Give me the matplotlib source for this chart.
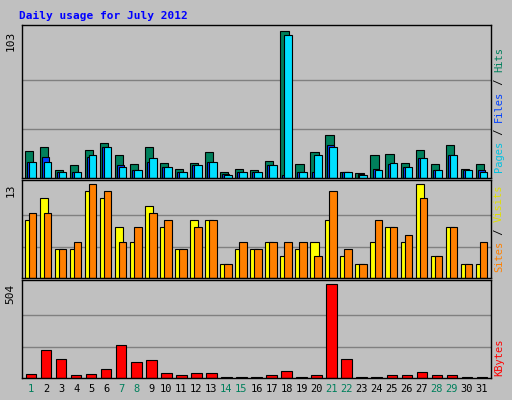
import matplotlib.pyplot as plt
import numpy as np

days = list(range(1, 32))
weekend = [1, 7, 8, 14, 15, 21, 22, 28, 29]

hits = [18.7, 21.5, 5.8, 8.9, 19.8, 24.8, 16.3, 9.6, 21.5, 10.7, 6.5, 10.7, 18, 4.4, 6.5, 5.8,
        11.7, 103, 9.6, 18, 30, 4.4, 3.7, 15.9, 16.6, 10.7, 19.8, 9.6, 23, 6.5, 9.6]
files = [11.4, 14.5, 4.4, 4, 14.5, 21.5, 8.9, 5.8, 11, 7.5, 4.4, 8.9, 11.4, 3, 4.4, 4.4,
         8.9, 2.3, 4.4, 4, 23, 4.4, 3, 6.5, 9.6, 7.5, 13.8, 5.8, 15.9, 5.8, 5.8]
pages = [11.4, 11.4, 4.4, 4.4, 15.9, 21.5, 7.5, 5.8, 13.8, 7.5, 4.4, 8.9, 11.4, 2.3, 4.4, 4.4,
         8.9, 100, 4.4, 15.9, 21.5, 4, 2.3, 5.8, 10.7, 7.5, 13.8, 5.8, 15.9, 5.8, 4]
visits = [8, 11, 4, 4, 12, 11, 7, 5, 10, 7, 4, 8, 8, 2, 4, 4,
          5, 3, 4, 5, 8, 3, 2, 5, 7, 5, 13, 3, 7, 2, 2]
sites = [9, 9, 4, 5, 13, 12, 5, 7, 9, 8, 4, 7, 8, 2, 5, 4,
         5, 5, 5, 3, 12, 4, 2, 8, 7, 6, 11, 3, 7, 2, 5]
kbytes = [20, 148, 101, 14, 20, 47, 175, 85, 94, 25, 14, 25, 25, 5, 5, 5,
          14, 36, 5, 14, 504, 101, 5, 5, 14, 14, 31, 14, 14, 5, 5]

bg = '#C0C0C0'
x = np.array(days)

fig = plt.figure(figsize=(5.12, 4.0), dpi=100, facecolor=bg)
fig.text(0.037, 0.96, 'Daily usage for July 2012', color='#0000FF', fontsize=8,
         fontweight='bold', family='DejaVu Sans Mono', va='center')

left, width = 22 / 512, 469 / 512
ax1 = fig.add_axes([left, 1 - 178 / 400, width, 153 / 400])
ax2 = fig.add_axes([left, 1 - 278 / 400, width, 98 / 400])
ax3 = fig.add_axes([left, 1 - 378 / 400, width, 98 / 400])

ec = dict(edgecolor='black', linewidth=0.8, align='edge')
ax1.bar(x - 0.42, hits, 0.55, color='#00805C', **ec)
ax1.bar(x - 0.28, files, 0.45, color='#0040FF', **ec)
ax1.bar(x - 0.15, pages, 0.5, color='#00E0FF', **ec)
ax2.bar(x - 0.42, visits, 0.55, color='#FFFF00', **ec)
ax2.bar(x - 0.15, sites, 0.5, color='#FF8000', **ec)
ax3.bar(x - 0.35, kbytes, 0.7, color='#FF0000', **ec)

for ax, top, lab in [(ax1, 103, '103'), (ax2, 13, '13'), (ax3, 504, '504')]:
    ymax = top * 1.04
    ax.set_ylim(0, ymax)
    ax.set_xlim(0.4, 31.6)
    ax.set_facecolor(bg)
    for g in (top / 3, 2 * top / 3):
        ax.axhline(g, color='#808080', linewidth=1, zorder=0)
    ax.set_xticks([])
    ax.set_yticks([])
    for s in ax.spines.values():
        s.set_color('black')
        s.set_linewidth(1)
    ax.text(-0.025, top / ymax, lab, transform=ax.transAxes, rotation=90,
            ha='center', va='top', fontsize=8, family='DejaVu Sans Mono')

for d in days:
    ax3.text(d, -0.06, str(d), transform=ax3.get_xaxis_transform(), ha='center', va='top',
             fontsize=7.5, family='DejaVu Sans Mono',
             color='#00805C' if d in weekend else 'black')

fig.canvas.draw()
renderer = fig.canvas.get_renderer()


def side_label(parts, y0):
    # stack coloured pieces from bottom to top using measured heights
    y = y0
    for txt, col in parts:
        t = fig.text(0.975, y, txt.replace(' ', '\u00a0'), rotation=90, color=col,
                     fontsize=7.5, family='DejaVu Sans Mono', ha='center', va='bottom')
        ext = t.get_window_extent(renderer)
        y += ext.height / fig.bbox.height


side_label([('Pages', '#00C0E0'), (' / ', 'black'), ('Files', '#0040FF'),
            (' / ', 'black'), ('Hits', '#00805C')], 1 - 172 / 400)
side_label([('Sites', '#FF8000'), (' / ', 'black'), ('Visits', '#E0E000')], 1 - 272 / 400)
side_label([('KBytes', '#FF0000')], 1 - 376 / 400)

fig.savefig('out.png', dpi=100, facecolor=bg)
